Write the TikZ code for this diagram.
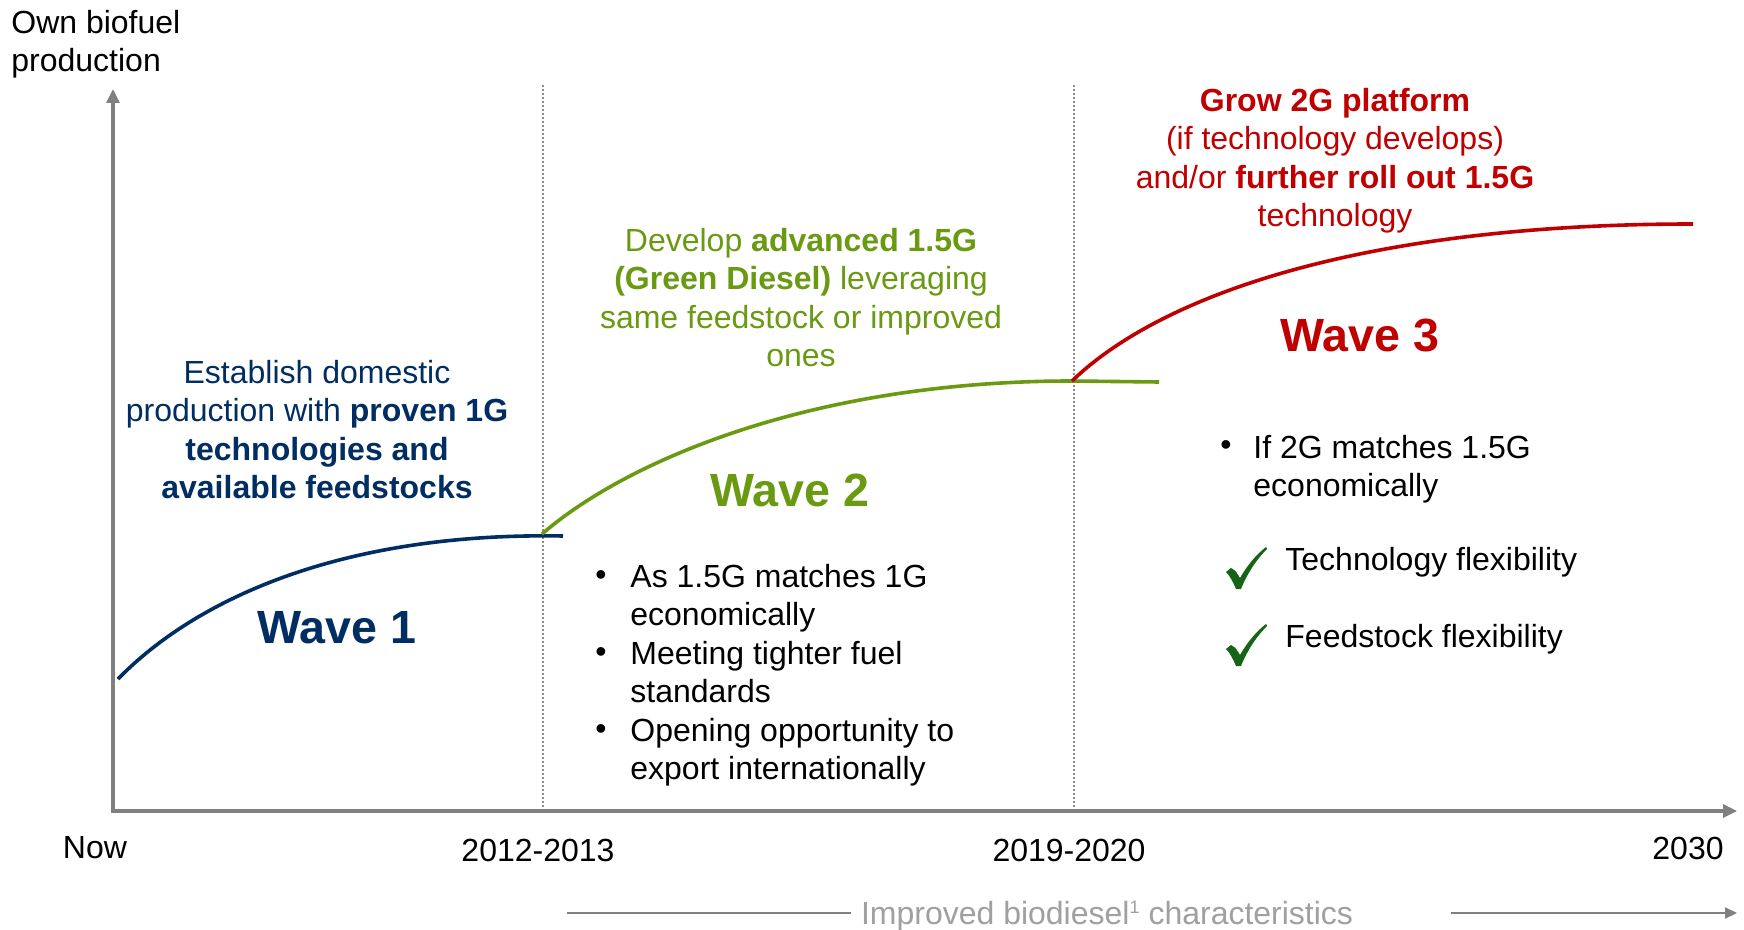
\documentclass[tikz,border=0pt]{standalone}
\usepackage{fontspec}
\setmainfont{Liberation Sans}
\usetikzlibrary{arrows.meta}
\definecolor{navy}{RGB}{0,45,98}
\definecolor{wgreen}{RGB}{106,153,18}
\definecolor{wred}{RGB}{192,0,0}
\definecolor{chk}{RGB}{22,100,22}
\definecolor{axgray}{RGB}{128,128,128}
\definecolor{dotgray}{RGB}{140,140,140}
\definecolor{txtgray}{RGB}{160,160,160}
\tikzset{
  chkmark/.pic={
    \fill[chk] (0,25) -- (5,21) .. controls (9,23) .. (14,31)
      .. controls (22,17) and (31,7) .. (40,0) -- (41,2)
      .. controls (30,13) and (21,27) .. (15,42) -- (10,42)
      .. controls (7,35) and (4,29) .. (0,25) -- cycle;
  }
}
\begin{document}
\begin{tikzpicture}[x=0.5pt,y=-0.5pt,
  body/.style={font=\fontsize{16}{19.2}\selectfont, inner sep=0pt, align=center},
  lbody/.style={font=\fontsize{16}{19.2}\selectfont, inner sep=0pt, align=left, anchor=north west},
  bul/.style={font=\fontsize{16}{19.2}\selectfont, inner sep=0pt},
  wave/.style={font=\fontsize{23.3}{27}\selectfont\bfseries, inner sep=0pt},
  axisline/.style={draw=axgray, line width=1.6pt, -{Triangle[length=7pt,width=6.5pt]}},
  guide/.style={draw=dotgray, line width=0.9pt, dash pattern=on 0.8pt off 1.2pt},
  curve/.style={line width=1.8pt},
  bline/.style={draw=axgray, line width=1pt},
]
\useasboundingbox[fill=white] (0,0) rectangle (1744,930);

% axes
\coordinate (O) at (113,812);
\coordinate (ytip) at (113,89);
\coordinate (xtip) at (1737,811);
\draw[guide] (543,85) coordinate (d1t) -- (543,811) coordinate (d1b);
\draw[guide] (1074,85) coordinate (d2t) -- (1074,811) coordinate (d2b);
\draw[axisline] (O) -- (ytip);
\draw[axisline] ([xshift=-0.8pt]O|-xtip) -- (xtip);

% axis labels
\node[lbody, anchor=north west] (ylab) at (11,10) {Own biofuel\\production};
\node[body] (tnow) at (95,848) {Now};
\node[body] (t1) at (538,850) {2012-2013};
\node[body] (t2) at (1069,850) {2019-2020};
\node[body] (t3) at (1688,848) {2030};

% bottom arrow
\node[body, text=txtgray] (imp) at (1107,916)
  {Improved biodiesel\raisebox{5.5pt}{\fontsize{9}{9}\selectfont 1} characteristics};
\coordinate (bl) at (567,913);
\coordinate (br1) at (1451,913);
\coordinate (br2) at (1737,913);
\draw[bline] (bl) -- ([xshift=-5pt]imp.west |- bl);
\draw[bline, -{Triangle[length=6pt,width=5.5pt]}] (br1) -- (br2);

% curves
\coordinate (w1s) at (118,679);
\coordinate (w1e) at (563,536);
\coordinate (j1) at (542,534);
\coordinate (j2) at (1072,381);
\coordinate (w2e) at (1159,382);
\coordinate (w3e) at (1693,224);
\draw[curve, navy] (w1s) .. controls (195,600) and (340,532) .. (w1e);
\draw[curve, wgreen] (j1) .. controls (625,462) and (810,381) .. (j2) -- (w2e);
\draw[curve, wred] (j2) .. controls (1160,296) and (1360,224) .. (w3e);

% wave 1
\node[body, text=navy, anchor=north] (w1txt) at (317,360)
  {Establish domestic\\production with \textbf{proven 1G}\\\textbf{technologies and}\\\textbf{available feedstocks}};
\node[wave, text=navy] (w1lab) at (337,628) {Wave 1};

% wave 2
\node[body, text=wgreen, anchor=north] (w2txt) at (801,228)
  {Develop \textbf{advanced 1.5G}\\\textbf{(Green Diesel)} leveraging\\same feedstock or improved\\ones};
\node[wave, text=wgreen] (w2lab) at (790,490) {Wave 2};
\node[bul] (b1) at (601,578) {•};
\node[lbody] (i1) at (630,564) {As 1.5G matches 1G\\economically};
\node[bul] (b2) at (601,655) {•};
\node[lbody] (i2) at (630,641) {Meeting tighter fuel\\standards};
\node[bul] (b3) at (601,732) {•};
\node[lbody] (i3) at (630,718) {Opening opportunity to\\export internationally};

% wave 3
\node[body, text=wred, anchor=north] (w3txt) at (1335,88)
  {\textbf{Grow 2G platform}\\(if technology develops)\\and/or \textbf{further roll out 1.5G}\\technology};
\node[wave, text=wred] (w3lab) at (1360,335) {Wave 3};
\node[bul] (b4) at (1226,448) {•};
\node[lbody] (i4) at (1253,435) {If 2G matches 1.5G\\economically};
\pic at (1226,547) {chkmark};
\node[lbody] (c1) at (1285,547) {Technology flexibility};
\pic at (1226,624) {chkmark};
\node[lbody] (c2) at (1285,624) {Feedstock flexibility};
\end{tikzpicture}
\end{document}
